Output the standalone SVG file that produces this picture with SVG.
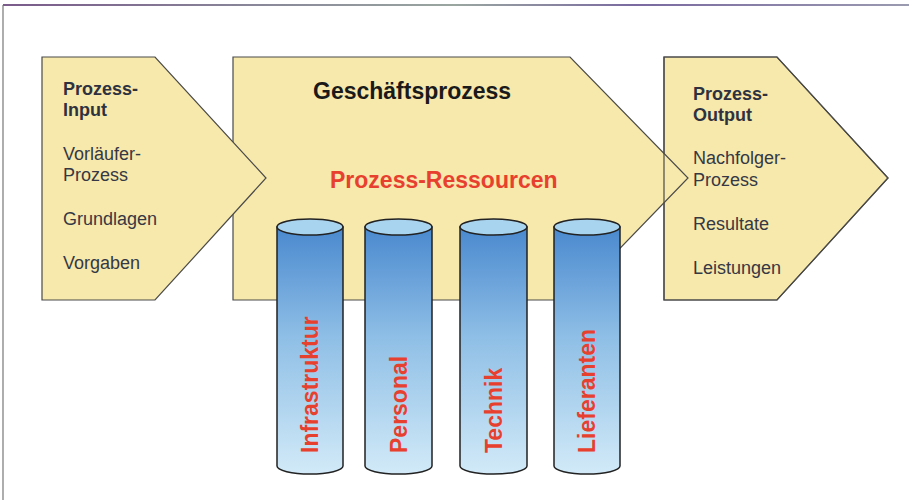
<svg xmlns="http://www.w3.org/2000/svg" width="909" height="503" viewBox="0 0 909 503">
<defs>
<linearGradient id="frameG" gradientUnits="userSpaceOnUse" x1="0" y1="0" x2="909" y2="0">
<stop offset="0" stop-color="#7a5a8a"/><stop offset="0.3" stop-color="#8a8a9a"/><stop offset="0.5" stop-color="#9aa6a0"/><stop offset="0.7" stop-color="#7a6aa0"/><stop offset="1" stop-color="#9a9ab0"/>
</linearGradient>
<linearGradient id="cylG" x1="0" y1="0" x2="0" y2="1">
<stop offset="0" stop-color="#4a89cf"/><stop offset="0.45" stop-color="#8fbfe6"/><stop offset="1" stop-color="#d2eaf8"/>
</linearGradient>
<style>
.shape{fill:#f7e8ab;stroke:#4a4a4a;stroke-width:1.2;stroke-linejoin:miter}
.outline{fill:none;stroke:#4a4a4a;stroke-width:1.2}
.lbl{font-family:"Liberation Sans",Arial,sans-serif;font-size:18px;fill:#353845}
.lblb{font-family:"Liberation Sans",Arial,sans-serif;font-size:18px;font-weight:bold;fill:#2e3240}
.title{font-family:"Liberation Sans",Arial,sans-serif;font-size:23px;font-weight:bold;fill:#1a1a1a}
.red{font-family:"Liberation Sans",Arial,sans-serif;font-size:23px;font-weight:bold;fill:#e8402f}
.cylbody{fill:url(#cylG);stroke:#222;stroke-width:1.5}
.cyltop{fill:#a9d4f0;stroke:#222;stroke-width:1.5}
</style>
</defs>
<rect x="0" y="0" width="909" height="503" fill="#ffffff"/>
<g id="frame">
<line x1="3" y1="5" x2="909" y2="5" stroke="url(#frameG)" stroke-width="2"/>
<line x1="3" y1="5" x2="3" y2="500" stroke="#777" stroke-width="1.2"/>
</g>
<g id="connectors"></g>
<g id="prozess-output">
<polygon class="shape" points="664,57 777,57 888,178 777,300 664,300"/>
</g>
<g id="geschaeftsprozess">
<polygon class="shape" points="233,57 570,57 688,178 570,300 233,300"/>
<polygon class="outline" points="664,57 777,57 888,178 777,300 664,300"/>
<text class="title" x="313" y="99">Geschäftsprozess</text>
<text class="red" x="330" y="188">Prozess-Ressourcen</text>
</g>
<g id="prozess-input">
<polygon class="shape" points="42,57 155,57 266,178 155,300 42,300"/>
<text class="lblb" x="63" y="95">Prozess-</text>
<text class="lblb" x="63" y="116">Input</text>
<text class="lbl" x="63" y="160">Vorläufer-</text>
<text class="lbl" x="63" y="181">Prozess</text>
<text class="lbl" x="63" y="225">Grundlagen</text>
<text class="lbl" x="63" y="269">Vorgaben</text>
</g>
<g id="output-text">
<text class="lblb" x="693" y="100">Prozess-</text>
<text class="lblb" x="693" y="121">Output</text>
<text class="lbl" x="693" y="164">Nachfolger-</text>
<text class="lbl" x="693" y="186">Prozess</text>
<text class="lbl" x="693" y="230">Resultate</text>
<text class="lbl" x="693" y="274">Leistungen</text>
</g>
<g id="infrastruktur">
<path class="cylbody" d="M277,227 L277,466 A33,8 0 0 0 343,466 L343,227 Z"/>
<ellipse class="cyltop" cx="310" cy="227" rx="33" ry="8"/>
<text class="red" transform="translate(318,453) rotate(-90)">Infrastruktur</text>
</g>
<g id="personal">
<path class="cylbody" d="M365,227 L365,466 A33.5,8 0 0 0 432,466 L432,227 Z"/>
<ellipse class="cyltop" cx="398.5" cy="227" rx="33.5" ry="8"/>
<text class="red" transform="translate(406.5,453) rotate(-90)">Personal</text>
</g>
<g id="technik">
<path class="cylbody" d="M460,227 L460,466 A33.5,8 0 0 0 527,466 L527,227 Z"/>
<ellipse class="cyltop" cx="493.5" cy="227" rx="33.5" ry="8"/>
<text class="red" transform="translate(501.5,453) rotate(-90)">Technik</text>
</g>
<g id="lieferanten">
<path class="cylbody" d="M554,227 L554,466 A33,8 0 0 0 620,466 L620,227 Z"/>
<ellipse class="cyltop" cx="587" cy="227" rx="33" ry="8"/>
<text class="red" transform="translate(595,453) rotate(-90)">Lieferanten</text>
</g>
</svg>
